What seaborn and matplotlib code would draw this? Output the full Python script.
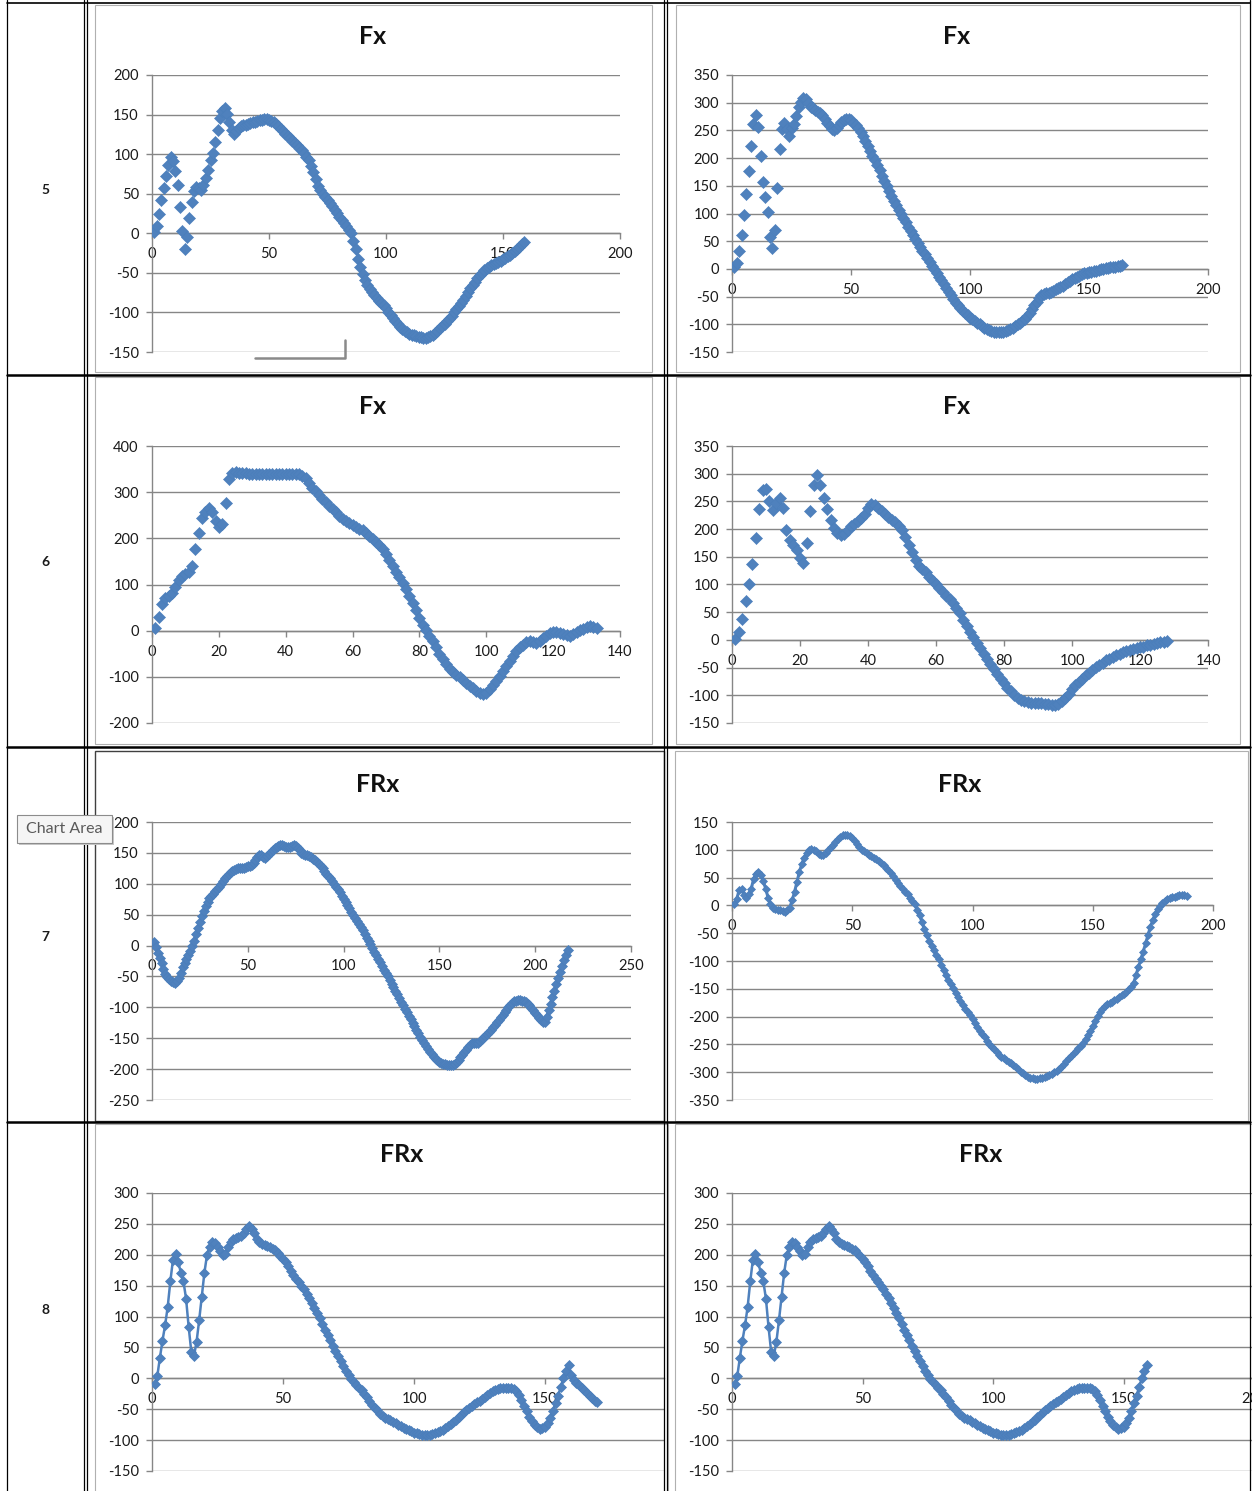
import numpy as np
import pandas as pd
import matplotlib
matplotlib.use("Agg")
import matplotlib.pyplot as plt
import seaborn as sns
from matplotlib.lines import Line2D
from matplotlib.patches import Rectangle

# ---------------------------------------------------------------------------
# Force traces, one value per sample (sample index starts at 1)
# ---------------------------------------------------------------------------
fx5_left = [
    2, 9, 24, 42, 57, 72, 86, 96, 91, 79,
    61, 33, 3, -20, -5, 19, 40, 54, 59, 57,
    55, 61, 70, 80, 92, 102, 115, 131, 146, 155,
    158, 151, 141, 131, 126, 129, 133, 136, 137, 137,
    138, 139, 140, 141, 142, 143, 143, 144, 144, 143,
    142, 140, 138, 135, 132, 129, 126, 123, 120, 117,
    114, 111, 108, 105, 102, 97, 92, 85, 77, 68,
    60, 55, 50, 46, 42, 38, 34, 30, 25, 21,
    17, 13, 9, 4, 0, -10, -20, -32, -42, -51,
    -59, -65, -70, -74, -78, -82, -85, -88, -91, -95,
    -99, -103, -107, -111, -115, -118, -121, -123, -125, -127,
    -128, -129, -130, -131, -131, -132, -132, -131, -130, -128,
    -126, -123, -120, -117, -114, -111, -108, -104, -100, -96,
    -92, -88, -84, -79, -74, -69, -65, -61, -57, -53,
    -50, -47, -44, -42, -40, -39, -38, -36, -35, -33,
    -31, -29, -27, -25, -23, -20, -17, -14, -11,
]

fx5_right = [
    3, 10, 32, 62, 97, 136, 176, 222, 262, 277,
    256, 203, 157, 130, 102, 58, 38, 70, 146, 216,
    252, 264, 252, 240, 255, 262, 276, 292, 302, 308,
    307, 300, 293, 290, 287, 284, 281, 277, 271, 264,
    258, 252, 251, 255, 260, 266, 269, 271, 270, 268,
    264, 260, 255, 248, 240, 230, 221, 213, 204, 196,
    187, 178, 168, 159, 150, 141, 132, 123, 116, 107,
    99, 91, 84, 76, 68, 61, 54, 47, 40, 33,
    27, 20, 13, 6, -1, -8, -14, -20, -27, -34,
    -41, -48, -55, -61, -66, -71, -76, -80, -84, -88,
    -91, -94, -97, -100, -103, -106, -108, -110, -112, -113,
    -114, -114, -114, -113, -112, -110, -108, -106, -103, -100,
    -97, -94, -90, -85, -79, -73, -66, -59, -52, -47,
    -45, -44, -43, -41, -39, -37, -35, -32, -30, -27,
    -24, -21, -18, -16, -14, -12, -10, -8, -7, -6,
    -5, -4, -3, -2, -1, 0, 1, 2, 3, 4,
    4, 5, 6, 7,
]

fx6_left = [
    5, 30, 57, 70, 76, 82, 95, 110, 118, 123,
    128, 140, 176, 212, 243, 258, 266, 256, 238, 225,
    230, 277, 328, 342, 343, 342, 341, 341, 340, 340,
    340, 340, 340, 340, 340, 340, 340, 340, 340, 340,
    340, 340, 340, 340, 336, 330, 320, 310, 302, 293,
    285, 278, 271, 264, 256, 249, 242, 237, 233, 229,
    225, 221, 217, 212, 206, 199, 192, 185, 176, 166,
    153, 140, 128, 116, 104, 90, 75, 60, 44, 28,
    13, 1, -11, -23, -36, -50, -62, -73, -82, -89,
    -95, -101, -107, -113, -119, -125, -131, -136, -138, -134,
    -127, -118, -108, -98, -88, -77, -66, -55, -45, -36,
    -30, -25, -22, -24, -26, -22, -16, -11, -6, -3,
    -2, -4, -7, -10, -12, -8, -3, 1, 4, 8,
    10, 9, 6,
]

fx6_right = [
    1, 15, 38, 70, 100, 137, 184, 236, 270, 273,
    250, 235, 248, 257, 238, 198, 181, 172, 162, 148,
    138, 175, 233, 280, 298, 280, 256, 236, 216, 202,
    193, 190, 192, 198, 205, 210, 214, 220, 228, 238,
    245, 243, 238, 232, 227, 222, 217, 212, 206, 198,
    186, 172, 158, 144, 134, 128, 122, 114, 107, 100,
    93, 86, 79, 73, 66, 58, 48, 36, 25, 15,
    5, -5, -15, -25, -35, -44, -53, -62, -70, -78,
    -86, -93, -100, -105, -109, -111, -112, -113, -113, -113,
    -114, -115, -116, -117, -118, -116, -111, -104, -97, -89,
    -82, -76, -70, -64, -59, -54, -49, -45, -41, -37,
    -34, -31, -28, -25, -22, -20, -19, -17, -15, -13,
    -12, -10, -9, -7, -6, -4, -3, -2,
]

frx7_left = [
    5, -2, -12, -20, -28, -38, -46, -51, -54, -57,
    -59, -61, -58, -52, -44, -35, -28, -22, -16, -9,
    -1, 8, 18, 28, 38, 48, 56, 64, 71, 77,
    81, 84, 88, 91, 95, 100, 105, 109, 113, 116,
    119, 121, 123, 124, 125, 125, 126, 126, 127, 128,
    129, 130, 133, 138, 143, 147, 146, 143, 142, 145,
    149, 152, 155, 158, 160, 161, 162, 162, 161, 160,
    159, 160, 161, 162, 161, 158, 154, 150, 148, 147,
    146, 145, 143, 140, 138, 135, 132, 129, 125, 120,
    116, 113, 109, 104, 99, 95, 91, 86, 81, 76,
    70, 65, 60, 55, 50, 45, 40, 35, 30, 25,
    19, 13, 7, 2, -4, -10, -15, -21, -27, -33,
    -39, -44, -50, -56, -62, -67, -73, -79, -85, -91,
    -96, -102, -108, -114, -119, -125, -131, -137, -142, -148,
    -153, -158, -163, -168, -172, -176, -180, -183, -186, -188,
    -190, -191, -192, -193, -194, -194, -193, -191, -188, -185,
    -181, -177, -173, -169, -165, -161, -158, -157, -157, -157,
    -155, -152, -149, -146, -143, -140, -136, -132, -128, -124,
    -120, -116, -112, -108, -104, -100, -96, -93, -90, -89,
    -88, -88, -89, -90, -92, -94, -97, -101, -105, -109,
    -113, -117, -121, -124, -124, -116, -105, -94, -83, -73,
    -63, -53, -43, -33, -24, -15, -8,
]

frx7_right = [
    2, 12, 28, 30, 18, 13, 20, 30, 48, 57,
    60, 54, 44, 30, 14, 2, -5, -7, -8, -9,
    -10, -11, -9, -4, 9, 24, 42, 60, 74, 86,
    94, 99, 101, 100, 98, 93, 90, 91, 94, 100,
    105, 109, 114, 119, 123, 126, 127, 126, 124, 121,
    116, 110, 105, 100, 97, 94, 91, 88, 86, 83,
    80, 77, 72, 68, 63, 58, 52, 46, 40, 35,
    30, 25, 20, 14, 8, 2, -8, -18, -30, -43,
    -54, -64, -73, -81, -89, -97, -107, -117, -126, -134,
    -141, -149, -157, -165, -172, -180, -186, -191, -198, -205,
    -212, -219, -225, -231, -237, -243, -249, -254, -259, -264,
    -269, -272, -275, -278, -281, -284, -287, -291, -295, -299,
    -302, -305, -308, -310, -311, -312, -312, -311, -310, -309,
    -307, -305, -303, -300, -297, -294, -290, -285, -280, -275,
    -270, -266, -262, -257, -252, -247, -240, -233, -225, -217,
    -208, -199, -191, -186, -181, -178, -176, -174, -171, -168,
    -165, -162, -159, -156, -151, -146, -140, -125, -111, -97,
    -83, -68, -53, -38, -26, -15, -7, -1, 4, 8,
    12, 14, 15, 16, 17, 18, 19, 19, 17,
]

frx8_left = [
    -9, 3, 33, 61, 86, 116, 157, 192, 202, 189,
    171, 157, 129, 83, 43, 36, 59, 94, 132, 171,
    200, 213, 221, 219, 213, 206, 200, 202, 212, 220,
    225, 227, 228, 230, 235, 241, 246, 242, 235, 226,
    221, 218, 216, 214, 212, 210, 207, 203, 198, 193,
    188, 182, 174, 167, 161, 156, 150, 144, 137, 130,
    122, 114, 106, 97, 88, 79, 70, 62, 53, 44,
    36, 28, 20, 12, 5, -1, -6, -11, -15, -19,
    -25, -31, -37, -43, -48, -52, -57, -61, -64, -66,
    -68, -70, -72, -75, -77, -80, -82, -84, -86, -88,
    -89, -90, -91, -91, -91, -91, -90, -89, -87, -85,
    -83, -80, -77, -74, -71, -67, -63, -59, -55, -51,
    -48, -45, -42, -39, -36, -33, -30, -27, -24, -21,
    -19, -17, -16, -15, -15, -15, -16, -18, -21, -27,
    -35, -44, -53, -62, -69, -75, -79, -82, -81, -78,
    -73, -64, -53, -40, -28, -14, 0, 12, 22, 6,
    -2, -7, -11, -15, -19, -24, -28, -32, -36, -39,
]

# the right-hand trial of row 8 stops at the 25 N peak (sample 159)
frx8_right = frx8_left[:159]

row_labels = ["5", "6", "7", "8"]
titles = ["Fx", "Fx", "Fx", "Fx", "FRx", "FRx", "FRx", "FRx"]

# ---------------------------------------------------------------------------
# Page geometry (pixels)
# ---------------------------------------------------------------------------
W, H = 1252, 1491
BLUE = "#4F81BD"
GRID = "#868686"
TEXT = "#1a1a1a"

sns.set_style("white")
plt.rcParams["font.family"] = ["Lato", "DejaVu Sans"]
plt.rcParams["axes.unicode_minus"] = False

fig = plt.figure(figsize=(W / 100, H / 100), dpi=100)
fig.patch.set_facecolor("white")


def fxp(px):
    return px / W


def fyp(py):
    return 1 - py / H


def hline(x0, x1, y, color="black", lw=1.0, z=5):
    fig.add_artist(Line2D([fxp(x0), fxp(x1)], [fyp(y), fyp(y)],
                          transform=fig.transFigure, color=color, lw=lw, zorder=z))


def vline(x, y0, y1, color="black", lw=1.0, z=5):
    fig.add_artist(Line2D([fxp(x), fxp(x)], [fyp(y0), fyp(y1)],
                          transform=fig.transFigure, color=color, lw=lw, zorder=z))


def box(l, t, r, b, color, lw=0.8, z=1):
    fig.add_artist(Rectangle((fxp(l), fyp(b)), (r - l) / W, (b - t) / H,
                             transform=fig.transFigure, fill=False,
                             edgecolor=color, lw=lw, zorder=z))


# chart-area frames
for (l, t, r, b) in [(95, 5, 652, 372), (676, 5, 1240, 372),
                     (95, 377, 652, 744), (676, 377, 1240, 744),
                     (675, 751, 1248, 1121),
                     (95, 1124, 668, 1495), (675, 1124, 1256, 1495)]:
    box(l, t, r, b, "#B0B0B0")
box(95, 751, 664, 1121, "#404040", lw=1.0)

# table grid
for x in (7, 84, 87, 664, 667, 1250):
    vline(x, 0, H, lw=0.9)
hline(7, 1250, 3, lw=1.2)
for y in (374.5, 746.5, 1121.5):
    hline(7, 1250, y, lw=1.8)

# row labels
for lab, y in zip(row_labels, (190, 562, 937, 1310)):
    fig.text(fxp(45), fyp(y), lab, ha="center", va="center",
             fontsize=10, fontweight="bold", color=TEXT)

# chart specs: series, title centre, plot box (l, t, r, b), x range, ticks
charts = [
    dict(y=fx5_left, tpos=(373, 36), bx=(152, 75, 620, 352), xlim=200, xt=(0, 200, 50),
         ylim=(-150, 200), ys=50, joined=False),
    dict(y=fx5_right, tpos=(957, 36), bx=(732, 75, 1208, 352), xlim=200, xt=(0, 200, 50),
         ylim=(-150, 350), ys=50, joined=False),
    dict(y=fx6_left, tpos=(373, 407), bx=(152, 446, 620, 723), xlim=140, xt=(0, 140, 20),
         ylim=(-200, 400), ys=100, joined=False),
    dict(y=fx6_right, tpos=(957, 407), bx=(732, 446, 1208, 723), xlim=140, xt=(0, 140, 20),
         ylim=(-150, 350), ys=50, joined=False),
    dict(y=frx7_left, tpos=(378, 784), bx=(152, 822, 631, 1100), xlim=250, xt=(0, 250, 50),
         ylim=(-250, 200), ys=50, joined=True, ms=4.6, lw=2.2),
    dict(y=frx7_right, tpos=(960, 784), bx=(732, 822, 1213, 1100), xlim=200, xt=(0, 200, 50),
         ylim=(-350, 150), ys=50, joined=True, ms=4.4, lw=2.2),
    dict(y=frx8_left, tpos=(402, 1155), bx=(152, 1193, 664, 1471), xlim=195.4, xt=(0, 150, 50),
         ylim=(-150, 300), ys=50, joined=True, ms=5.2, lw=1.8),
    dict(y=frx8_right, tpos=(981, 1155), bx=(732, 1193, 1254, 1471), xlim=200, xt=(0, 200, 50),
         ylim=(-150, 300), ys=50, joined=True, ms=5.2, lw=1.8),
]

for spec, name in zip(charts, titles):
    l, t, r, b = spec["bx"]
    ax = fig.add_axes([fxp(l), fyp(b), (r - l) / W, (b - t) / H])
    ax.patch.set_alpha(0)

    vals = spec["y"]
    df = pd.DataFrame({"sample": np.arange(1, len(vals) + 1), "force": vals})
    if spec["joined"]:
        sns.lineplot(data=df, x="sample", y="force", ax=ax, color=BLUE,
                     linewidth=spec["lw"], marker="D", markersize=spec["ms"],
                     markeredgecolor="#4A7EBB", markeredgewidth=0.5,
                     estimator=None, sort=False, zorder=3)
    else:
        sns.scatterplot(data=df, x="sample", y="force", ax=ax, color=BLUE,
                        marker="D", s=38, edgecolor="#4A7EBB", linewidth=0.4,
                        zorder=3)

    ymin, ymax = spec["ylim"]
    ax.set_xlim(0, spec["xlim"])
    ax.set_ylim(ymin, ymax)
    ax.set_yticks(np.arange(ymin, ymax + 1, spec["ys"]))
    x0, x1, xs = spec["xt"]
    ax.set_xticks(np.arange(x0, x1 + 1, xs))
    ax.set_xlabel("")
    ax.set_ylabel("")

    for s in ("top", "right"):
        ax.spines[s].set_visible(False)
    ax.spines["left"].set_color(GRID)
    ax.spines["left"].set_linewidth(1.0)
    ax.spines["bottom"].set_position(("data", 0))
    ax.spines["bottom"].set_color(GRID)
    ax.spines["bottom"].set_linewidth(1.0)
    for s in ("left", "bottom"):
        ax.spines[s].set_zorder(0.6)

    ax.yaxis.grid(True, color=GRID, linewidth=1.0)
    ax.xaxis.grid(False)
    ax.set_axisbelow(True)
    ax.tick_params(axis="y", left=True, direction="out", length=4.5, width=1.0,
                   color=GRID, pad=5, labelsize=10.5, labelcolor=TEXT)
    ax.tick_params(axis="x", bottom=True, direction="out", length=4.5, width=1.0,
                   color=GRID, pad=5.5, labelsize=10.5, labelcolor=TEXT)

    cx, cy = spec["tpos"]
    fig.text(fxp(cx), fyp(cy), name, ha="center", va="center",
             fontsize=18, fontweight="bold", color="#111111")

# selection handle under the first chart
fig.add_artist(Line2D([fxp(255), fxp(345), fxp(345)], [fyp(358), fyp(358), fyp(340)],
                      transform=fig.transFigure, color="#8a8a8a", lw=1.8, zorder=6))

# "Chart Area" hover tip
fig.add_artist(Rectangle((fxp(19), fyp(845)), 95 / W, 28 / H, transform=fig.transFigure,
                         facecolor="#C8C8C8", edgecolor="none", zorder=7))
fig.add_artist(Rectangle((fxp(17), fyp(843)), 95 / W, 28 / H, transform=fig.transFigure,
                         facecolor="#F5F5F5", edgecolor="#8C8C8C", lw=0.8, zorder=8))
fig.text(fxp(64.5), fyp(829), "Chart Area", ha="center", va="center",
         fontsize=11.5, color="#5a5a5a", zorder=9)

fig.savefig("out.png", dpi=100)
